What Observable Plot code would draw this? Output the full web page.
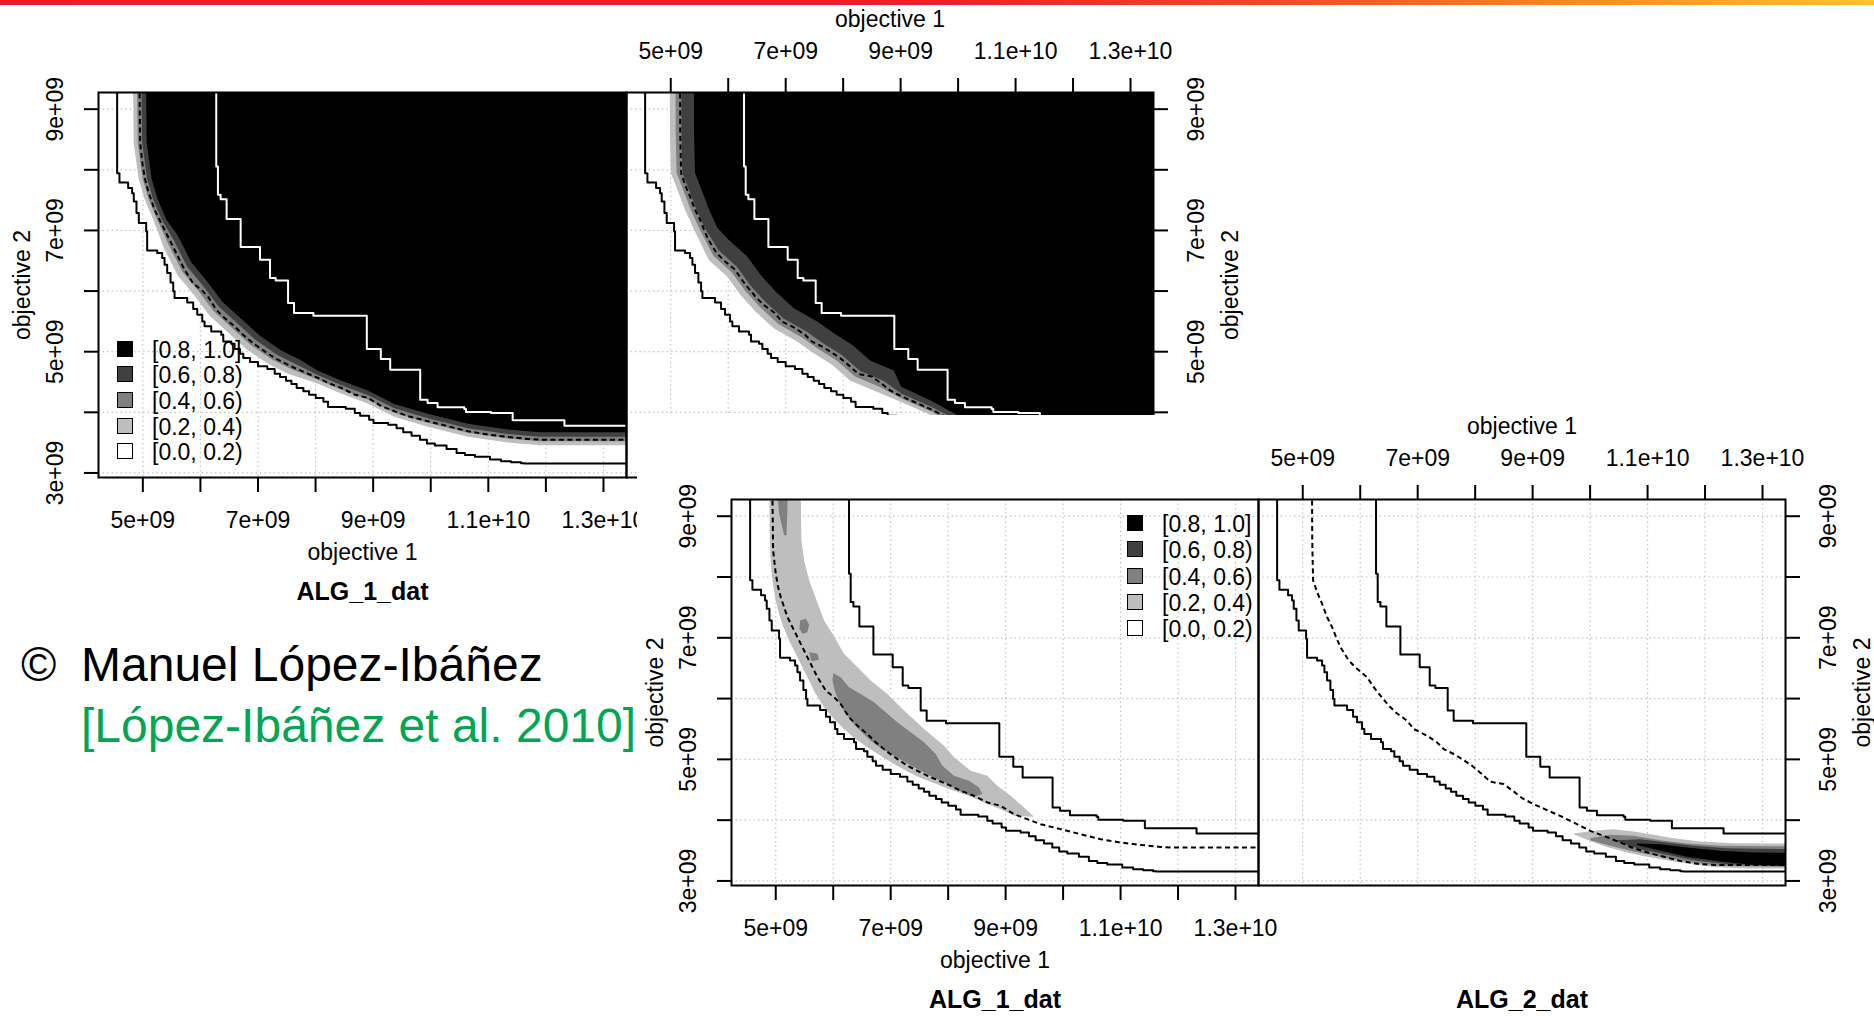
<!DOCTYPE html>
<html>
<head>
<meta charset="utf-8">
<script src="https://cdn.jsdelivr.net/npm/d3@7"></script>
<script src="https://cdn.jsdelivr.net/npm/@observablehq/plot@0.6"></script>
<style>
  html, body { margin: 0; padding: 0; background: #fff; }
  #page { position: relative; width: 1874px; height: 1016px; overflow: hidden; background: #fff;
          font-family: 'Liberation Sans', Arial, Helvetica, sans-serif; color: #000; }
  .abs { position: absolute; }
  .bar { left: 0; top: 0; width: 1874px; height: 5px;
         background: linear-gradient(to right, #ed1c24 0%, #ed1f29 50%, #f04a25 68%, #f68a1f 84%, #fcc52c 100%); }
  .cover { left: 637px; top: 415px; width: 1237px; height: 601px; background: #fff; }
  .lrow { position: absolute; height: 25px; line-height: 25px; font-size: 23px; white-space: nowrap; }
  .lrow .sw { position: absolute; left: 0; top: 4px; width: 14px; height: 14px; border: 1.5px solid #000; }
  .lrow .lt { position: absolute; left: 35px; top: 1px; }
  .credit { font-size: 48px; line-height: 48px; white-space: nowrap; }
</style>
</head>
<body>
<div id="page"></div>
<script>
// Axis ticks and labels
const xTickValues = [5e9, 6e9, 7e9, 8e9, 9e9, 1e10, 1.1e10, 1.2e10, 1.3e10];
const xLabelValues = [5e9, 7e9, 9e9, 1.1e10, 1.3e10];
const xLabels = ["5e+09", "7e+09", "9e+09", "1.1e+10", "1.3e+10"];
const yTickValues = [3e9, 4e9, 5e9, 6e9, 7e9, 8e9, 9e9];
const yLabelValues = [3e9, 5e9, 7e9, 9e9];
const yLabels = ["3e+09", "5e+09", "7e+09", "9e+09"];

// Attainment levels (legend)
const levelLabels = ["[0.8, 1.0]", "[0.6, 0.8)", "[0.4, 0.6)", "[0.2, 0.4)", "[0.0, 0.2)"];
const levelColors = ["#000000", "#404040", "#808080", "#bebebe", "#ffffff"];

// Surfaces, in units of 1e9: [objective 1, objective 2]
const best = [[4.554,9.4],[4.554,7.945],[4.594,7.791],[4.745,7.698],[4.814,7.615],[4.843,7.478],[4.890,7.286],[4.930,7.121],[5.058,6.984],[5.075,6.670],[5.249,6.626],[5.336,6.544],[5.377,6.434],[5.423,6.297],[5.481,6.143],[5.528,5.995],[5.551,5.885],[5.771,5.813],[5.875,5.703],[5.945,5.610],[6.032,5.500],[6.072,5.418],[6.188,5.335],[6.362,5.280],[6.397,5.170],[6.536,5.132],[6.594,5.044],[6.687,4.967],[6.745,4.896],[6.861,4.830],[7.000,4.758],[7.162,4.714],[7.290,4.637],[7.383,4.582],[7.487,4.522],[7.580,4.467],[7.672,4.401],[7.788,4.346],[7.887,4.291],[8.003,4.236],[8.136,4.176],[8.217,4.088],[8.525,4.060],[8.681,3.989],[8.774,3.945],[8.930,3.879],[9.006,3.824],[9.261,3.797],[9.406,3.736],[9.522,3.670],[9.667,3.615],[9.812,3.549],[9.933,3.484],[10.072,3.451],[10.275,3.396],[10.449,3.330],[10.594,3.297],[10.768,3.269],[11.029,3.220],[11.220,3.192],[11.394,3.176],[11.568,3.159],[11.620,3.154],[13.5,3.154]];

const worst = [[6.275,9.4],[6.275,8.055],[6.304,7.588],[6.351,7.516],[6.455,7.187],[6.699,6.725],[7.035,6.516],[7.209,6.214],[7.307,6.176],[7.522,5.802],[7.626,5.637],[7.962,5.593],[8.890,5.044],[9.133,4.879],[9.296,4.703],[9.817,4.209],[9.945,4.154],[10.119,4.082],[10.583,4.055],[10.612,4.005],[11.046,3.989],[11.423,3.868],[12.322,3.780],[13.5,3.780]];

const median1 = [[4.942,9.4],[4.954,8.440],[5.000,8.055],[5.041,7.835],[5.087,7.670],[5.145,7.505],[5.203,7.341],[5.290,7.176],[5.377,7.011],[5.493,6.791],[5.609,6.571],[5.725,6.352],[5.870,6.132],[6.014,6.022],[6.130,5.912],[6.275,5.692],[6.420,5.555],[6.594,5.418],[6.739,5.280],[6.913,5.143],[7.116,5.005],[7.290,4.896],[7.464,4.813],[7.638,4.731],[7.841,4.648],[8.043,4.566],[8.217,4.484],[8.449,4.401],[8.681,4.291],[8.913,4.236],[9.145,4.099],[9.377,4.016],[9.609,3.934],[9.957,3.852],[10.304,3.769],[10.652,3.687],[11.000,3.632],[11.348,3.593],[11.696,3.560],[11.900,3.549],[13.5,3.549]];

const median2 = [[5.162,9.4],[5.165,8.6],[5.180,7.945],[5.249,7.753],[5.336,7.560],[5.423,7.341],[5.510,7.176],[5.568,7.038],[5.655,6.846],[5.800,6.626],[5.945,6.489],[6.119,6.352],[6.235,6.187],[6.351,6.049],[6.496,5.885],[6.612,5.775],[6.814,5.637],[6.930,5.500],[7.162,5.390],[7.336,5.280],[7.452,5.170],[7.626,5.088],[7.771,5.005],[7.945,4.896],[8.119,4.758],[8.264,4.632],[8.496,4.593],[8.670,4.473],[8.814,4.363],[9.017,4.264],[9.278,4.154],[9.539,4.044],[9.771,3.934],[10.003,3.824],[10.235,3.742],[10.525,3.632],[10.757,3.538],[11.046,3.456],[11.336,3.385],[11.568,3.330],[11.916,3.275],[12.200,3.262],[13.5,3.262]];

// ALG_1 attainment surfaces (20%, 40%, 60%, 80%)
const alg1Eaf20 = [[4.838,9.4],[4.850,8.440],[4.937,7.835],[5.041,7.505],[5.186,7.176],[5.383,6.686],[5.615,6.247],[5.904,5.917],[6.165,5.587],[6.484,5.313],[6.803,5.038],[7.180,4.791],[7.528,4.626],[8.043,4.467],[8.449,4.302],[8.913,4.137],[9.377,3.917],[9.957,3.753],[10.652,3.588],[11.348,3.494],[11.900,3.450],[13.5,3.450]];
const alg1Eaf40 = [[4.907,9.4],[4.919,8.440],[5.006,7.835],[5.110,7.505],[5.255,7.176],[5.456,6.756],[5.688,6.317],[5.977,5.987],[6.238,5.657],[6.557,5.383],[6.876,5.108],[7.253,4.861],[7.601,4.696],[8.043,4.533],[8.449,4.368],[8.913,4.203],[9.377,3.983],[9.957,3.819],[10.652,3.654],[11.348,3.560],[11.900,3.516],[13.5,3.516]];
const alg1Eaf60 = [[4.985,9.4],[4.997,8.440],[5.084,7.835],[5.188,7.505],[5.333,7.176],[5.542,6.838],[5.774,6.399],[6.063,6.069],[6.324,5.739],[6.643,5.465],[6.962,5.190],[7.339,4.943],[7.687,4.778],[8.043,4.607],[8.449,4.442],[8.913,4.277],[9.377,4.057],[9.957,3.893],[10.652,3.728],[11.348,3.634],[11.900,3.590],[13.5,3.590]];
const alg1Eaf80 = [[5.064,9.4],[5.076,8.440],[5.163,7.835],[5.267,7.505],[5.412,7.176],[5.616,6.908],[5.848,6.469],[6.137,6.139],[6.398,5.809],[6.717,5.535],[7.036,5.260],[7.413,5.013],[7.761,4.848],[8.043,4.681],[8.449,4.516],[8.913,4.351],[9.377,4.131],[9.957,3.967],[10.652,3.802],[11.348,3.708],[11.900,3.664],[13.5,3.664]];

// ALG_2 attainment surfaces (20%, 40%, 60%, 80%)
const alg2Eaf20 = [[4.992,9.4],[4.995,8.6],[5.010,7.945],[5.166,7.560],[5.253,7.341],[5.398,7.038],[5.670,6.506],[5.989,6.232],[6.221,5.929],[6.482,5.655],[6.800,5.380],[7.206,5.160],[7.496,4.968],[7.815,4.776],[8.134,4.512],[8.540,4.353],[9.017,4.164],[9.539,3.944],[10.003,3.729],[10.525,3.542],[11.046,3.374],[11.568,3.256],[12.200,3.200],[13.5,3.200]];
const alg2Eaf40 = [[5.092,9.4],[5.095,8.6],[5.110,7.945],[5.266,7.560],[5.353,7.341],[5.498,7.038],[5.750,6.576],[6.069,6.302],[6.301,5.999],[6.562,5.725],[6.880,5.450],[7.286,5.230],[7.576,5.038],[7.895,4.846],[8.214,4.582],[8.620,4.423],[9.017,4.224],[9.539,4.004],[10.003,3.788],[10.525,3.600],[11.046,3.428],[11.568,3.306],[12.200,3.242],[13.5,3.242]];
const alg2Eaf60 = [[5.192,9.4],[5.195,8.6],[5.210,7.945],[5.366,7.560],[5.453,7.341],[5.598,7.038],[5.840,6.666],[6.159,6.392],[6.391,6.089],[6.652,5.815],[6.970,5.540],[7.376,5.320],[7.666,5.128],[7.985,4.936],[8.304,4.672],[8.710,4.513],[9.017,4.304],[9.539,4.084],[10.003,3.862],[10.525,3.668],[11.046,3.486],[11.568,3.356],[12.200,3.282],[13.5,3.282]];
const alg2Eaf80 = [[5.412,9.4],[5.415,8.6],[5.430,7.945],[5.586,7.560],[5.673,7.341],[5.818,7.038],[6.020,6.836],[6.339,6.562],[6.571,6.259],[6.832,5.985],[7.150,5.710],[7.556,5.490],[7.846,5.298],[8.165,5.106],[8.484,4.842],[8.890,4.683],[9.017,4.414],[9.539,4.184],[10.003,3.944],[10.525,3.732],[11.046,3.536],[11.568,3.390],[12.200,3.312],[13.5,3.312]];

// Regions where ALG_1 attains more often than ALG_2 (outlines)
const diff1Light = [[5.435,9.4],[5.446,8.604],[5.493,8.275],[5.580,7.945],[5.667,7.725],[5.754,7.505],[5.841,7.286],[5.986,7.066],[6.188,6.736],[6.362,6.571],[6.652,6.297],[6.942,6.077],[7.232,5.802],[7.580,5.500],[7.928,5.225],[8.101,5.033],[8.391,4.813],[8.681,4.731],[8.855,4.566],[9.087,4.401],[9.319,4.209],[9.493,4.055],[9.145,4.071],[8.913,4.181],[8.681,4.264],[8.449,4.363],[8.217,4.445],[7.986,4.522],[7.754,4.610],[7.522,4.692],[7.290,4.802],[7.058,4.923],[6.826,5.060],[6.594,5.198],[6.362,5.352],[6.188,5.500],[6.014,5.665],[5.841,5.857],[5.696,6.077],[5.580,6.297],[5.464,6.516],[5.348,6.736],[5.232,6.956],[5.133,7.176],[5.058,7.396],[5.000,7.615],[4.959,7.835],[4.930,8.055],[4.907,8.330],[4.896,8.714],[4.890,9.4]];
const diff1GreyMain = [[6.003,6.418],[6.130,6.352],[6.275,6.187],[6.478,6.077],[6.710,5.940],[6.913,5.775],[7.116,5.610],[7.348,5.445],[7.580,5.280],[7.783,5.088],[7.899,4.896],[8.101,4.731],[8.362,4.648],[8.536,4.538],[8.594,4.429],[8.449,4.385],[8.217,4.473],[7.986,4.593],[7.754,4.703],[7.522,4.813],[7.290,4.934],[7.058,5.060],[6.826,5.187],[6.652,5.308],[6.478,5.462],[6.333,5.610],[6.200,5.775],[6.101,5.940],[6.026,6.132],[5.986,6.297]];
const diff1GreyTop = [[5.029,9.4],[5.203,9.4],[5.203,9.099],[5.186,8.687],[5.145,8.687],[5.058,9.044]];
const diff1GreyBlob = [[5.423,7.286],[5.522,7.313],[5.580,7.220],[5.551,7.093],[5.464,7.066],[5.412,7.148]];
const diff1GreySpot = [[5.580,6.764],[5.725,6.736],[5.754,6.637],[5.620,6.615]];

// Regions where ALG_2 attains more often than ALG_1 (outlines)
const diff2Light = [[9.713,3.780],[10.061,3.824],[10.409,3.852],[10.757,3.813],[11.104,3.758],[11.452,3.703],[11.916,3.648],[12.496,3.621],[13.5,3.615],[13.5,3.203],[12.728,3.203],[12.148,3.231],[11.684,3.286],[11.336,3.341],[10.988,3.396],[10.641,3.467],[10.293,3.560],[10.003,3.659],[9.713,3.769]];
const diff2Grey = [[10.003,3.703],[10.351,3.758],[10.757,3.742],[11.220,3.670],[11.684,3.615],[12.264,3.577],[13.5,3.571],[13.5,3.231],[12.264,3.247],[11.684,3.319],[11.220,3.396],[10.757,3.484],[10.351,3.577],[10.003,3.670]];
const diff2Dark = [[10.467,3.670],[10.872,3.687],[11.336,3.632],[11.800,3.577],[12.380,3.538],[13.5,3.522],[13.5,3.242],[12.380,3.275],[11.800,3.341],[11.336,3.429],[10.872,3.522],[10.467,3.648]];
const diff2Black = [[10.814,3.615],[11.220,3.604],[11.684,3.549],[12.264,3.495],[12.843,3.467],[13.5,3.462],[13.5,3.247],[12.843,3.264],[12.264,3.319],[11.684,3.396],[11.220,3.495],[10.814,3.593]];

const UNIT = 1e9;
const X = d => d[0] * UNIT;
const Y = d => d[1] * UNIT;
const TOP = 9.4e9;
const FONT = "'Liberation Sans', Arial, Helvetica, sans-serif";
const page = document.getElementById("page");

function surfaceFill(s, color) {
  return Plot.areaY(s, {x: X, y1: Y, y2: TOP, fill: color, clip: true});
}
function regionFill(p, color) {
  return Plot.line(p, {x: X, y: Y, fill: color, stroke: "none", clip: true});
}

function panel({left, top, w, h, fills, median, worstStroke, xAnchor, yAnchor, title}) {
  const M = {top: 110, right: 110, bottom: 140, left: 110};
  const onBottom = xAnchor === "bottom";
  const onLeft = yAnchor === "left";
  const grid = {stroke: "#c4c4c4", strokeOpacity: 1, strokeWidth: 1.2, strokeDasharray: "1.5,3"};
  const marks = [
    Plot.gridX(xTickValues, grid),
    Plot.gridY(yTickValues, grid),
    ...fills,
    Plot.line(best, {x: X, y: Y, curve: "step-after", stroke: "black", strokeWidth: 2, clip: true}),
    Plot.line(median, {x: X, y: Y, stroke: "black", strokeWidth: 2, strokeDasharray: "5,3.5", strokeLinecap: "butt", clip: true}),
    Plot.line(worst, {x: X, y: Y, curve: "step-after", stroke: worstStroke, strokeWidth: 2, clip: true}),
    Plot.frame({stroke: "black", strokeWidth: 2}),
    Plot.axisX({ticks: xTickValues, anchor: xAnchor, tickSize: 15, tickFormat: () => "", label: null, strokeWidth: 2}),
    Plot.axisY({ticks: yTickValues, anchor: yAnchor, tickSize: 14, tickFormat: () => "", label: null, strokeWidth: 2}),
    Plot.text(xLabelValues, {x: d => d, text: (d, i) => xLabels[i], frameAnchor: xAnchor,
      dy: onBottom ? 43 : -41, textAnchor: "middle", lineAnchor: "middle", fontSize: 23}),
    Plot.text(["objective 1"], {text: d => d, frameAnchor: xAnchor, dy: onBottom ? 75 : -73,
      textAnchor: "middle", lineAnchor: "middle", fontSize: 23}),
    Plot.text(yLabelValues, {y: d => d, text: (d, i) => yLabels[i], frameAnchor: yAnchor,
      dx: onLeft ? -43 : 43, rotate: -90, textAnchor: "middle", lineAnchor: "middle", fontSize: 23}),
    Plot.text(["objective 2"], {text: d => d, frameAnchor: yAnchor, dx: onLeft ? -76 : 77,
      rotate: -90, textAnchor: "middle", lineAnchor: "middle", fontSize: 23}),
    Plot.text([title], {text: d => d, frameAnchor: "bottom", dy: 114, textAnchor: "middle",
      lineAnchor: "middle", fontSize: 25, fontWeight: "bold"})
  ];
  const svg = Plot.plot({
    width: w + M.left + M.right,
    height: h + M.top + M.bottom,
    marginTop: M.top, marginRight: M.right, marginBottom: M.bottom, marginLeft: M.left,
    x: {domain: [4.23e9, 13.4e9]},
    y: {domain: [2.925e9, 9.275e9]},
    style: {background: "transparent", overflow: "visible", maxWidth: "none", fontFamily: FONT, color: "black"},
    marks
  });
  svg.style.position = "absolute";
  svg.style.left = (left - M.left) + "px";
  svg.style.top = (top - M.top) + "px";
  page.appendChild(svg);
}

function legend(left, top, step) {
  levelLabels.forEach((lab, i) => {
    const row = document.createElement("div");
    row.className = "lrow";
    row.style.left = left + "px";
    row.style.top = (top + i * step) + "px";
    const sw = document.createElement("div");
    sw.className = "sw";
    sw.style.background = levelColors[i];
    const t = document.createElement("div");
    t.className = "lt";
    t.textContent = lab;
    row.appendChild(sw);
    row.appendChild(t);
    page.appendChild(row);
  });
}

// Full attainment functions of each algorithm
panel({left: 98, top: 92, w: 528, h: 385, xAnchor: "bottom", yAnchor: "left", title: "ALG_1_dat",
  median: median1, worstStroke: "white",
  fills: [surfaceFill(alg1Eaf20, levelColors[3]), surfaceFill(alg1Eaf40, levelColors[2]),
          surfaceFill(alg1Eaf60, levelColors[1]), surfaceFill(alg1Eaf80, levelColors[0])]});
panel({left: 626, top: 92, w: 527, h: 385, xAnchor: "top", yAnchor: "right", title: "ALG_2_dat",
  median: median2, worstStroke: "white",
  fills: [surfaceFill(alg2Eaf20, levelColors[3]), surfaceFill(alg2Eaf40, levelColors[2]),
          surfaceFill(alg2Eaf60, levelColors[1]), surfaceFill(alg2Eaf80, levelColors[0])]});
legend(117, 336.5, 25.7);

// Differences between the two attainment functions, drawn on a sheet of its own
const cover = document.createElement("div");
cover.className = "abs cover";
page.appendChild(cover);

panel({left: 731, top: 499, w: 527, h: 386, xAnchor: "bottom", yAnchor: "left", title: "ALG_1_dat",
  median: median1, worstStroke: "black",
  fills: [regionFill(diff1Light, levelColors[3]), regionFill(diff1GreyMain, levelColors[2]),
          regionFill(diff1GreyTop, levelColors[2]), regionFill(diff1GreyBlob, levelColors[2]),
          regionFill(diff1GreySpot, levelColors[2])]});
panel({left: 1258, top: 499, w: 527, h: 386, xAnchor: "top", yAnchor: "right", title: "ALG_2_dat",
  median: median2, worstStroke: "black",
  fills: [regionFill(diff2Light, levelColors[3]), regionFill(diff2Grey, levelColors[2]),
          regionFill(diff2Dark, levelColors[1]), regionFill(diff2Black, levelColors[0])]});
legend(1127, 511, 26.3);

// Credit lines
function credit(text, left, top, color) {
  const d = document.createElement("div");
  d.className = "abs credit";
  d.style.left = left + "px";
  d.style.top = top + "px";
  d.style.color = color;
  d.textContent = text;
  page.appendChild(d);
}
credit("©", 21, 641, "#000");
credit("Manuel López-Ibáñez", 81, 641, "#000");
credit("[López-Ibáñez et al. 2010]", 81, 702, "#00a651");

const bar = document.createElement("div");
bar.className = "abs bar";
page.appendChild(bar);
</script>
</body>
</html>
